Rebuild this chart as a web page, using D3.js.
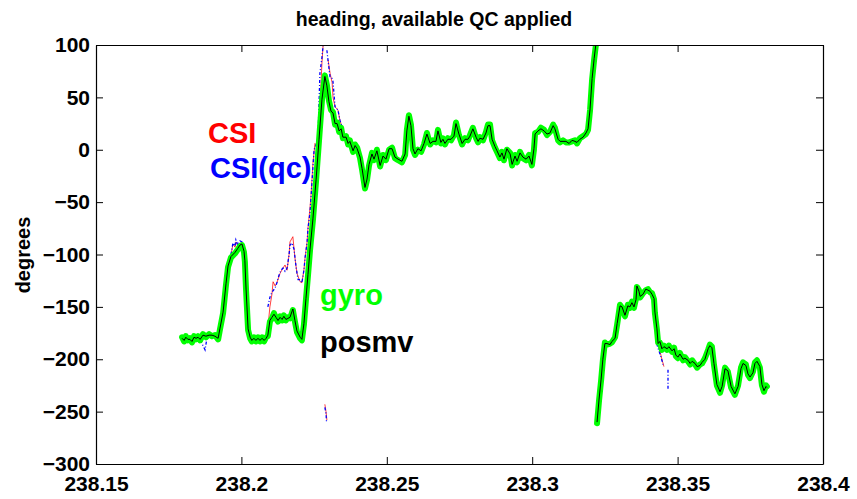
<!DOCTYPE html>
<html>
<head>
<meta charset="utf-8">
<script src="https://cdn.jsdelivr.net/npm/d3@7"></script>
<style>
  body { margin: 0; background: #fff; }
  text { font-family: "Liberation Sans", Arial, Helvetica, sans-serif; font-weight: bold; }
</style>
</head>
<body>
<svg id="chart" width="857" height="499"></svg>
<script>
// axis ticks
const xTicks = [238.15, 238.2, 238.25, 238.3, 238.35, 238.4];
const xTickLabels = ["238.15", "238.2", "238.25", "238.3", "238.35", "238.4"];
const yTicks = [-300, -250, -200, -150, -100, -50, 0, 50, 100];

// gyro / posmv, first stretch (before the wrap at +100)
const seg1Time = [
  238.1796, 238.1803, 238.1809, 238.1816, 238.1823, 238.1830, 238.1837, 238.1844, 238.1851, 238.1858,
  238.1868, 238.1878, 238.1889, 238.1899, 238.1909, 238.1920, 238.1926, 238.1937, 238.1947, 238.1954,
  238.1964, 238.1978, 238.1988, 238.1995, 238.2002, 238.2009, 238.2012, 238.2016, 238.2023, 238.2030,
  238.2036, 238.2043, 238.2050, 238.2057, 238.2064, 238.2071, 238.2078, 238.2085, 238.2091, 238.2098,
  238.2105, 238.2112, 238.2119, 238.2126, 238.2133, 238.2140, 238.2146, 238.2153, 238.2160, 238.2167,
  238.2177, 238.2184, 238.2191, 238.2202, 238.2208, 238.2215, 238.2222, 238.2229, 238.2236, 238.2246,
  238.2257, 238.2267, 238.2277, 238.2287, 238.2294, 238.2301, 238.2308, 238.2315, 238.2322, 238.2329,
  238.2336, 238.2343, 238.2349, 238.2360, 238.2367, 238.2373, 238.2384, 238.2391, 238.2398, 238.2408,
  238.2415, 238.2425, 238.2432, 238.2439, 238.2449, 238.2456, 238.2466, 238.2477, 238.2487, 238.2497,
  238.2508, 238.2518, 238.2528, 238.2539, 238.2552, 238.2563, 238.2569, 238.2576, 238.2583, 238.2590,
  238.2597, 238.2607, 238.2618, 238.2628, 238.2638, 238.2649, 238.2659, 238.2669, 238.2676, 238.2686,
  238.2693, 238.2700, 238.2710, 238.2721, 238.2731, 238.2738, 238.2748, 238.2759, 238.2769, 238.2779,
  238.2786, 238.2796, 238.2807, 238.2814, 238.2820, 238.2831, 238.2841, 238.2848, 238.2855, 238.2862,
  238.2872, 238.2879, 238.2889, 238.2896, 238.2903, 238.2913, 238.2924, 238.2931, 238.2941, 238.2948,
  238.2958, 238.2968, 238.2979, 238.2989, 238.2999, 238.3006, 238.3010, 238.3020, 238.3030, 238.3041,
  238.3051, 238.3061, 238.3072, 238.3078, 238.3089, 238.3096, 238.3106, 238.3116, 238.3127, 238.3137,
  238.3147, 238.3154, 238.3164, 238.3175, 238.3185, 238.3192, 238.3199, 238.3206, 238.3213, 238.3219,
  238.3223
];
const gyroSeg1 = [
  -179, -183, -178, -182, -180, -184, -178, -181, -178, -182,
  -176, -179, -176, -178, -177, -181, -172, -156, -129, -112,
  -103, -99, -95, -92, -91, -98, -107, -134, -172, -180,
  -183, -179, -183, -179, -183, -179, -183, -179, -178, -164,
  -161, -156, -161, -164, -159, -163, -158, -163, -160, -161,
  -153, -164, -174, -180, -182, -167, -143, -120, -96, -67,
  -29, 9, 47, 71, 62, 47, 38, 36, 24, 26,
  17, 21, 11, 13, 5, 9, -2, 5, 2, -8,
  -19, -37, -29, -15, -3, -10, 0, -16, -5, -10,
  0, 2, -8, -10, -12, -5, 19, 33, 24, 0,
  -5, 0, -2, 5, 16, 5, 9, 7, 19, 6,
  11, 5, 11, 9, 14, 26, 14, 5, 11, 9,
  14, 21, 11, 7, 12, 9, 17, 24, 24, 9,
  2, -2, -8, -2, -10, 0, -3, -15, -5, -12,
  -2, -8, -10, -5, -15, 0, 16, 17, 21, 19,
  14, 17, 24, 21, 9, 7, 9, 7, 7, 8,
  9, 6, 11, 13, 15, 19, 38, 67, 86, 100,
  114
];
const posmvSeg1 = [
  -180, -182, -179, -181, -181, -183, -179, -180, -179, -181,
  -177, -178, -177, -177, -178, -180, -171, -155, -128, -111,
  -102, -98, -94, -91, -90, -97, -106, -133, -171, -179,
  -182, -180, -182, -180, -182, -180, -182, -180, -177, -163,
  -160, -157, -160, -163, -160, -162, -159, -162, -161, -160,
  -152, -163, -173, -179, -181, -166, -142, -119, -95, -66,
  -28, 10, 48, 70, 61, 46, 37, 35, 25, 25,
  18, 20, 12, 12, 6, 8, -1, 4, 1, -7,
  -18, -36, -28, -14, -4, -9, -1, -15, -6, -9,
  1, 1, -7, -9, -11, -4, 18, 32, 23, 1,
  -4, 1, -1, 6, 15, 6, 8, 8, 18, 7,
  10, 6, 10, 10, 13, 25, 15, 6, 10, 10,
  13, 20, 12, 8, 11, 10, 16, 23, 23, 10,
  3, -1, -7, -3, -9, 1, -4, -14, -6, -11,
  -3, -7, -9, -6, -14, 1, 15, 18, 20, 18,
  15, 16, 23, 20, 10, 8, 8, 8, 6, 9,
  8, 7, 10, 12, 16, 20, 39, 68, 87, 101,
  115
];

// gyro / posmv, second stretch (after the wrap, from -260)
const seg2Time = [
  238.3223, 238.3230, 238.3237, 238.3243, 238.3250, 238.3257, 238.3268, 238.3274, 238.3285, 238.3292,
  238.3302, 238.3309, 238.3319, 238.3329, 238.3336, 238.3343, 238.3350, 238.3357, 238.3360, 238.3367,
  238.3371, 238.3381, 238.3391, 238.3398, 238.3405, 238.3412, 238.3419, 238.3422, 238.3429, 238.3433,
  238.3439, 238.3446, 238.3453, 238.3464, 238.3470, 238.3481, 238.3488, 238.3494, 238.3501, 238.3508,
  238.3519, 238.3525, 238.3536, 238.3543, 238.3550, 238.3560, 238.3567, 238.3577, 238.3584, 238.3594,
  238.3605, 238.3611, 238.3618, 238.3625, 238.3635, 238.3646, 238.3653, 238.3663, 238.3673, 238.3684,
  238.3697, 238.3708, 238.3718, 238.3725, 238.3735, 238.3742, 238.3749, 238.3759, 238.3766, 238.3773,
  238.3783, 238.3790, 238.3797, 238.3804, 238.3807
];
const gyroSeg2 = [
  -261, -239, -220, -201, -184, -186, -185, -184, -179, -167,
  -148, -151, -159, -148, -151, -145, -151, -142, -131, -134,
  -141, -137, -134, -133, -136, -137, -143, -156, -172, -184,
  -184, -191, -187, -191, -187, -193, -189, -197, -199, -194,
  -201, -198, -202, -205, -201, -205, -208, -205, -204, -199,
  -191, -186, -188, -205, -225, -232, -225, -208, -212, -227,
  -234, -225, -208, -203, -205, -215, -218, -212, -203, -201,
  -208, -225, -231, -225, -226
];
const posmvSeg2 = [
  -260, -238, -219, -200, -185, -185, -186, -183, -180, -166,
  -149, -150, -158, -149, -150, -146, -150, -143, -130, -135,
  -140, -138, -133, -134, -135, -138, -142, -155, -171, -185,
  -183, -190, -188, -190, -188, -192, -190, -196, -198, -195,
  -200, -199, -201, -204, -202, -204, -207, -206, -203, -200,
  -190, -187, -189, -204, -224, -231, -226, -209, -211, -226,
  -233, -226, -209, -204, -206, -214, -217, -213, -204, -202,
  -207, -224, -230, -226, -227
];

// CSI raw: only the stretches where it leaves the gyro trace (null = gap)
const csiTime = [
  238.1964, 238.1971, 238.1978, 238.1981, 238.1988, 238.1995, 238.2002, 238.2009, null,
  238.2091, 238.2098, 238.2105, 238.2109, 238.2116, 238.2122, 238.2133, 238.2143, 238.2150, 238.2157,
  238.2164, 238.2167, 238.2177, 238.2184, 238.2191, 238.2202, 238.2208, 238.2215, 238.2219, 238.2226,
  238.2229, 238.2236, 238.2239, 238.2246, 238.2253, 238.2260, 238.2263, 238.2270, 238.2277, 238.2281,
  238.2284, null, 238.2287, 238.2291, 238.2294, null, 238.2298, 238.2305, 238.2312, 238.2315,
  238.2322, 238.2332, 238.2339, 238.2346, 238.2356, 238.2367, null,
  238.3422, 238.3433, 238.3446, 238.3453
];
const csiHeading = [
  -101, -90, -93, -88, -92, -89, -90, -97, null,
  -170, -150, -138, -126, -130, -127, -118, -113, -110, -115,
  -100, -88, -83, -103, -118, -126, -127, -115, -103, -88,
  -75, -55, -45, -13, 6, 4, 9, 40, 83, 100,
  108, null, -243, -250, -258, null, 86, 73, 64, 50,
  41, 38, 28, 22, 14, 5, null,
  -165, -185, -200, -207
];

// CSI after QC
const csiQcTime = [
  238.1858, 238.1868, 238.1875, 238.1882, null,
  238.1964, 238.1971, 238.1978, 238.1981, 238.1988, 238.1995, 238.2002, 238.2009, null,
  238.2091, 238.2098, 238.2105, 238.2116, 238.2122, 238.2129, 238.2136, 238.2143, 238.2150, 238.2157,
  238.2164, 238.2167, 238.2174, 238.2181, 238.2188, 238.2195, 238.2202, 238.2208, 238.2215, 238.2219,
  238.2226, 238.2229, 238.2236, 238.2243, 238.2250, 238.2257, 238.2263, 238.2270, 238.2277, 238.2281,
  238.2284, null, 238.2287, 238.2291, 238.2293, null, 238.2294, 238.2298, 238.2305, 238.2312,
  238.2315, 238.2322, 238.2332, 238.2339, 238.2346, 238.2349, 238.2356, null,
  238.3422, 238.3429, 238.3436, 238.3443, 238.3450, null,
  238.3467, 238.3467
];
const csiQcHeading = [
  -182, -187, -191, -179, null,
  -100, -89, -92, -86, -91, -87, -88, -96, null,
  -150, -141, -136, -132, -127, -120, -115, -113, -116, -113,
  -100, -91, -89, -95, -112, -124, -124, -127, -115, -103,
  -88, -75, -60, -30, 0, 5, 8, 73, 88, 100,
  106, null, -246, -252, -261, null, 95, 85, 69, 68,
  65, 41, 38, 28, 22, 19, 14, null,
  -170, -186, -192, -198, -205, null,
  -210, -229
];

const labels = [
  { text: "CSI", color: "#ff0000", x: 208, y: 143 },
  { text: "CSI(qc)", color: "#0000ff", x: 210, y: 178 },
  { text: "gyro", color: "#00ff00", x: 320, y: 305 },
  { text: "posmv", color: "#000000", x: 320, y: 352 }
];

const svg = d3.select("#chart");
const margin = { top: 45, right: 34, bottom: 35, left: 96 };
const width = 857 - margin.left - margin.right;
const height = 499 - margin.top - margin.bottom;

const x = d3.scaleLinear().domain([238.15, 238.4]).range([0, width]);
const y = d3.scaleLinear().domain([-300, 100]).range([height, 0]);

const g = svg.append("g").attr("transform", `translate(${margin.left},${margin.top})`);

g.append("clipPath").attr("id", "clip")
  .append("rect").attr("width", width).attr("height", height);

const zip = (ts, vs) => ts.map((t, i) => [t, vs[i]]);
const line = d3.line()
  .defined((d) => d[0] != null && d[1] != null)
  .x((d) => x(d[0]))
  .y((d) => y(d[1]));

const plot = g.append("g").attr("clip-path", "url(#clip)");

// red CSI, blue CSI(qc), thick green gyro, thin black posmv on top
plot.append("path").datum(zip(csiTime, csiHeading))
  .attr("fill", "none").attr("stroke", "#ff0000").attr("stroke-width", 1)
  .attr("stroke-opacity", 0.75).attr("d", line);
plot.append("path").datum(zip(csiQcTime, csiQcHeading))
  .attr("fill", "none").attr("stroke", "#0000ff").attr("stroke-width", 1.3)
  .attr("stroke-dasharray", "3,2,1,2").attr("d", line);

[zip(seg1Time, gyroSeg1), zip(seg2Time, gyroSeg2)].forEach((d) => {
  plot.append("path").datum(d)
    .attr("fill", "none").attr("stroke", "#00ff00").attr("stroke-width", 6)
    .attr("stroke-linejoin", "round").attr("stroke-linecap", "round").attr("d", line);
});
[zip(seg1Time, posmvSeg1), zip(seg2Time, posmvSeg2)].forEach((d) => {
  plot.append("path").datum(d)
    .attr("fill", "none").attr("stroke", "#000").attr("stroke-width", 1)
    .attr("d", line);
});

// axes, matlab style: ticks pointing in, box all round
const bottomAxis = g.append("g").attr("transform", `translate(0,${height})`)
  .call(d3.axisBottom(x).tickValues(xTicks).tickFormat((d, i) => xTickLabels[i])
    .tickSizeInner(-7).tickSizeOuter(0).tickPadding(12));
const leftAxis = g.append("g")
  .call(d3.axisLeft(y).tickValues(yTicks).tickFormat((d) => d < 0 ? "\u2212" + Math.abs(d) : d)
    .tickSizeInner(-7).tickSizeOuter(0).tickPadding(6));
g.append("g")
  .call(d3.axisTop(x).tickValues(xTicks).tickFormat("").tickSizeInner(-7).tickSizeOuter(0));
g.append("g").attr("transform", `translate(${width},0)`)
  .call(d3.axisRight(y).tickValues(yTicks).tickFormat("").tickSizeInner(-7).tickSizeOuter(0));

g.selectAll(".domain").attr("stroke", "#000").attr("stroke-width", 1.2);
g.selectAll(".tick line").attr("stroke", "#000");
[bottomAxis, leftAxis].forEach((a) => a.selectAll("text")
  .attr("fill", "#000").style("font-size", "21px")
  .style("font-family", "'Liberation Sans', Arial, sans-serif").style("font-weight", "bold"));

// title and y label
svg.append("text").attr("x", 434).attr("y", 26).attr("text-anchor", "middle")
  .style("font-size", "19.5px").text("heading, available QC applied");
svg.append("text").attr("transform", "translate(30,255) rotate(-90)")
  .attr("text-anchor", "middle").style("font-size", "20px").text("degrees");

// in-plot series labels
svg.selectAll(".lbl").data(labels).enter().append("text")
  .attr("class", "lbl")
  .attr("x", (d) => d.x).attr("y", (d) => d.y)
  .attr("fill", (d) => d.color)
  .style("font-size", "29px")
  .text((d) => d.text);
</script>
</body>
</html>
